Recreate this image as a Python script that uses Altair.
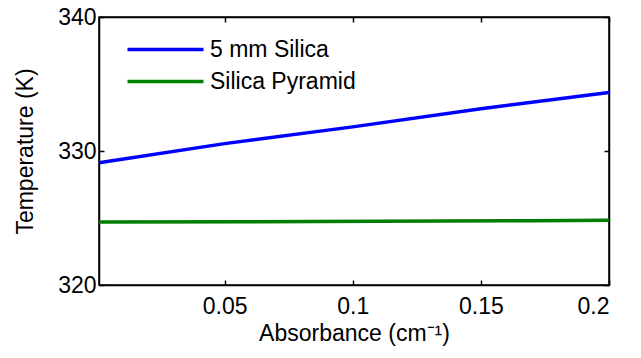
import altair as alt
import pandas as pd

# Data
absorb_silica = [0.001, 0.05, 0.1, 0.15, 0.2]
temp_silica = [329.13, 330.55, 331.8, 333.15, 334.36]
absorb_pyramid = [0.001, 0.06, 0.11, 0.17, 0.2]
temp_pyramid = [324.70, 324.72, 324.76, 324.80, 324.83]
series_names = ["5 mm Silica", "Silica Pyramid"]
series_colors = ["#0000ff", "#008000"]
x_ticks = [0.05, 0.1, 0.15, 0.2]
y_ticks = [320, 330, 340]

df = pd.concat([
    pd.DataFrame({"a": absorb_silica, "t": temp_silica, "s": series_names[0]}),
    pd.DataFrame({"a": absorb_pyramid, "t": temp_pyramid, "s": series_names[1]}),
])

FONT = "Liberation Sans"
FS = 23

xscale = alt.Scale(domain=[0.001, 0.2], nice=False, zero=False)
yscale = alt.Scale(domain=[320, 340], nice=False, zero=False)

main = alt.Chart(df).mark_line(strokeWidth=3.5).encode(
    x=alt.X("a:Q", scale=xscale,
            axis=alt.Axis(values=x_ticks, title="Absorbance (cm⁻¹)",
                          tickSize={"expr": "-5"}, labelPadding=15,
                          titlePadding=4, format="~g")),
    y=alt.Y("t:Q", scale=yscale,
            axis=alt.Axis(values=y_ticks, title="Temperature (K)",
                          tickSize={"expr": "-5"}, labelPadding=8,
                          titlePadding=20, format="d")),
    color=alt.Color("s:N", scale=alt.Scale(domain=series_names, range=series_colors),
                    legend=alt.Legend(title=None, orient="none", legendX=55, legendY=21,
                                      symbolType="M-4,0H4", symbolSize=361,
                                      symbolStrokeWidth=3.5, labelOffset=33,
                                      labelFontSize=FS, labelFont=FONT,
                                      rowPadding=8, padding=0)),
)

frame = alt.Chart(df).mark_line(opacity=0).encode(
    x=alt.X("a:Q", scale=xscale,
            axis=alt.Axis(values=x_ticks, orient="top", labels=False, title=None,
                          tickSize={"expr": "-5"})),
    y=alt.Y("t:Q", scale=yscale,
            axis=alt.Axis(values=y_ticks, orient="right", labels=False, title=None,
                          tickSize={"expr": "-5"})),
)

chart = alt.layer(main, frame).resolve_axis(x="independent", y="independent").properties(
    width=510, height=268,
    autosize=alt.AutoSizeParams(type="none"),
    padding={"left": 91, "top": 9, "right": 20, "bottom": 70},
).configure(font=FONT).configure_axis(
    labelFont=FONT, titleFont=FONT, labelFontSize=FS, titleFontSize=FS,
    labelColor="black", titleColor="black", domainColor="black", tickColor="black",
    titleFontWeight="normal", grid=False, domainWidth=1.5, tickWidth=1.5,
).configure_view(stroke="black", strokeWidth=1.5)

chart.save("out.html", embed_options={"renderer": "svg", "actions": False})
